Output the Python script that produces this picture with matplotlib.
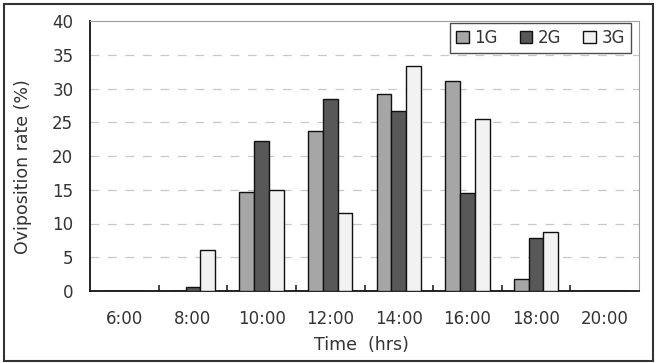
import numpy as np
import matplotlib.pyplot as plt
from matplotlib.patches import Rectangle

times = ["6:00", "8:00", "10:00", "12:00", "14:00", "16:00", "18:00", "20:00"]
g1 = [0, 0, 14.6, 23.7, 29.2, 31.1, 1.8, 0]
g2 = [0, 0.6, 22.2, 28.4, 26.6, 14.5, 7.9, 0]
g3 = [0, 6.1, 15.0, 11.6, 33.4, 25.5, 8.7, 0]
series = [("1G", g1, "#a6a6a6"), ("2G", g2, "#585858"), ("3G", g3, "#f2f2f2")]

plt.rcParams['font.family'] = ['DejaVu Sans']
txt = "#333333"

fig = plt.figure(figsize=(6.59, 3.63), dpi=100)
ax = fig.add_axes([90 / 659, 72 / 363, 549 / 659, 270 / 363])

x = np.arange(len(times))
w = 0.215
for i, (name, vals, col) in enumerate(series):
  ax.bar(x + (i - 1) * w, vals, w, color=col, edgecolor="#111111", linewidth=1.0, label=name, zorder=3)

ax.set_xlim(-0.5, len(times) - 0.5)
ax.set_ylim(0, 40)
ax.set_yticks(range(0, 41, 5))
ax.set_xticks(x)
ax.set_xticklabels(times)
ax.set_xticks(np.arange(0.5, len(times) - 0.5, 1), minor=True)
ax.tick_params(axis="x", which="major", length=0, pad=14, labelsize=12, labelcolor=txt)
ax.tick_params(axis="x", which="minor", direction="in", length=4, width=1.2, color="#222222")
ax.tick_params(axis="y", length=0, pad=12, labelsize=12, labelcolor=txt)

for yv in range(5, 40, 5):
  ax.axhline(yv, color="#c8c8c8", linewidth=0.9, dashes=(7, 7), zorder=1)

ax.spines["left"].set_color("#111111")
ax.spines["bottom"].set_color("#111111")
ax.spines["left"].set_linewidth(1.3)
ax.spines["bottom"].set_linewidth(1.3)
ax.spines["top"].set_color("#a0a0a0")
ax.spines["right"].set_color("#a0a0a0")

ax.set_ylabel("Oviposition rate (%)", fontsize=12.5, color=txt)
ax.yaxis.set_label_coords(-0.105, 0.46)
ax.set_xlabel("Time  (hrs)", fontsize=12.5, color=txt)
ax.xaxis.set_label_coords(0.495, -0.165)

leg = ax.legend(loc="upper right", bbox_to_anchor=(0.985, 0.993), ncol=3, fontsize=12,
                frameon=True, fancybox=False, handlelength=0.75, handleheight=0.75,
                handletextpad=0.35, columnspacing=1.3, borderaxespad=0, borderpad=0.35)
leg.get_frame().set_edgecolor("#222222")
leg.get_frame().set_linewidth(1.0)
for t in leg.get_texts():
  t.set_color(txt)

fig.patches.append(Rectangle((4 / 659, 2 / 363), 649 / 659, 357 / 363, transform=fig.transFigure,
                             fill=False, edgecolor="#333333", linewidth=1.5))

plt.savefig("out.png")
